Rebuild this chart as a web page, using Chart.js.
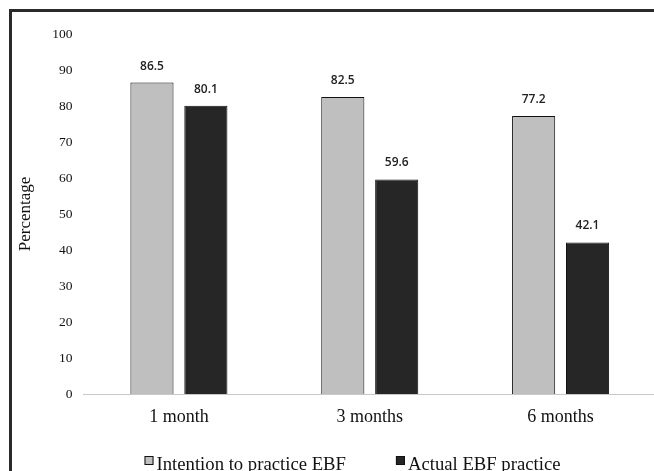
<!DOCTYPE html>
<html><head><meta charset="utf-8">
<script src="https://cdn.jsdelivr.net/npm/chart.js@4/dist/chart.umd.min.js"></script>
<style>
html,body{margin:0;padding:0;background:#fff;overflow:hidden;width:654px;height:471px;}
#wrap{position:absolute;left:0;top:0;width:654px;height:471px;overflow:hidden;}
#frame{position:absolute;left:9px;top:9px;width:670px;height:490px;border:3px solid #2a2a2a;box-sizing:border-box;}
canvas{position:absolute;left:0;top:0;}
</style></head>
<body><div id="wrap"><div id="frame"></div><canvas id="c" width="660" height="471"></canvas></div>
<script>
const categories = ["1 month", "3 months", "6 months"];
const intention = [86.5, 82.5, 77.2];
const actual = [80.1, 59.6, 42.1];
const seriesNames = ["Intention to practice EBF", "Actual EBF practice"];
const yTicks = [0,10,20,30,40,50,60,70,80,90,100];

const SERIF = '"Liberation Serif", "Times New Roman", serif';

const labelPlugin = {
  id: 'valLabels',
  afterDatasetsDraw(chart){
    const ctx = chart.ctx;
    ctx.save();
    ctx.font = '600 12px "Open Sans", "DejaVu Sans", sans-serif';
    ctx.fillStyle = '#222';
    ctx.textAlign = 'center';
    ctx.textBaseline = 'alphabetic';
    chart.data.datasets.forEach((ds,i)=>{
      chart.getDatasetMeta(i).data.forEach((bar,j)=>{
        ctx.fillText(ds.data[j].toFixed(1), bar.x, bar.y - 13);
      });
    });
    ctx.restore();
  }
};

const legendPlugin = {
  id: 'bottomLegend',
  afterDraw(chart){
    const ctx = chart.ctx;
    ctx.save();
    ctx.font = '18.7px ' + SERIF;
    ctx.textBaseline = 'alphabetic';
    ctx.textAlign = 'left';
    const box = 9, gapText = 3, gapItem = 50;
    const items = chart.data.datasets.map(ds => ({text: ds.label, color: ds.backgroundColor, w: ctx.measureText(ds.label).width}));
    const total = items.reduce((s,it)=>s + box + gapText + it.w, 0) + gapItem*(items.length-1);
    let x = 352.5 - total/2;
    const baseline = 470;
    items.forEach(it=>{
      ctx.fillStyle = it.color;
      ctx.fillRect(x, baseline - 14, box, box);
      ctx.strokeStyle = '#111';
      ctx.lineWidth = 1;
      ctx.strokeRect(x + 0.5, baseline - 13.5, box - 1, box - 1);
      ctx.fillStyle = '#111';
      ctx.fillText(it.text, x + box + gapText, baseline);
      x += box + gapText + it.w + gapItem;
    });
    ctx.restore();
  }
};

new Chart(document.getElementById('c'), {
  type: 'bar',
  data: {
    labels: categories,
    datasets: [
      {label: seriesNames[0], data: intention, backgroundColor: '#bfbfbf', borderColor: '#111', borderWidth: 1, barPercentage: 0.8, categoryPercentage: 0.565},
      {label: seriesNames[1], data: actual, backgroundColor: '#262626', borderColor: '#111', borderWidth: 1, barPercentage: 0.8, categoryPercentage: 0.565}
    ]
  },
  options: {
    responsive: false,
    animation: false,
    layout: {padding: {top: 34, left: 10, right: 4, bottom: 31.4}},
    plugins: {
      legend: {display: false},
      tooltip: {enabled: false}
    },
    scales: {
      x: {
        grid: {display: false, drawTicks: false},
        border: {color: '#c8c8c8', width: 1},
        ticks: {font: {family: SERIF, size: 18}, color: '#111', padding: 12}
      },
      y: {
        min: 0, max: 100,
        afterBuildTicks(s){ s.ticks = yTicks.map(v=>({value:v})); },
        afterFit(s){ s.width = 73.5; },
        grid: {display: false, drawTicks: false},
        border: {display: false},
        ticks: {font: {family: SERIF, size: 13.5}, color: '#111', padding: 11},
        title: {display: true, text: 'Percentage', font: {family: SERIF, size: 17}, color: '#111', padding: {top: 5, bottom: 0}}
      }
    }
  },
  plugins: [labelPlugin, legendPlugin]
});
</script></body></html>
